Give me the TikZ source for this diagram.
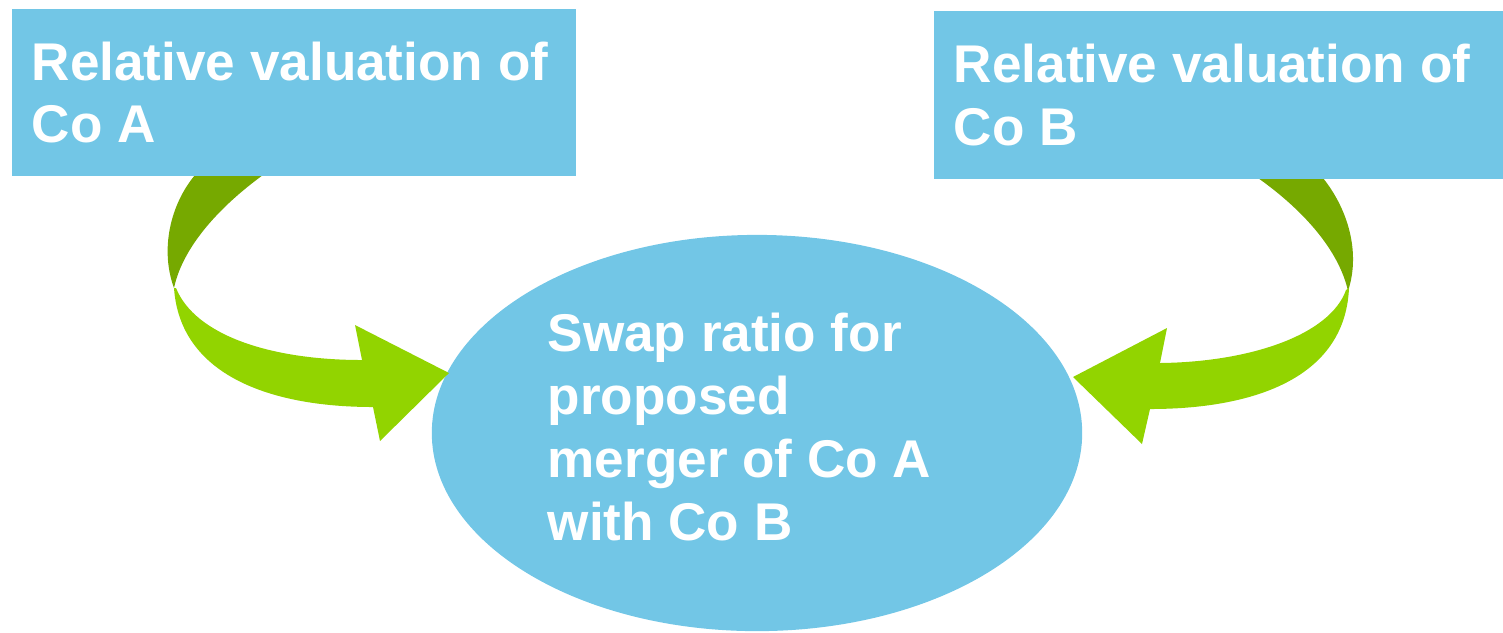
\documentclass[tikz,border=0pt]{standalone}
\usepackage{fontspec}
\setmainfont{Liberation Sans}
\usetikzlibrary{shapes.geometric}
\definecolor{skyblue}{HTML}{72C6E6}
\definecolor{leafdark}{HTML}{76A900}
\definecolor{leaflight}{HTML}{92D400}

\begin{document}
\begin{tikzpicture}[
  x=0.01cm, y=-0.01cm,
  big/.style={font=\fontsize{15.1}{17.9}\selectfont\bfseries, text=white},
  box/.style={big, rectangle, fill=skyblue, align=flush left, inner xsep=0.2cm,
              inner ysep=0pt, minimum height=1.67cm},
  oval/.style={ellipse, fill=skyblue, inner sep=0pt,
               minimum width=6.5cm, minimum height=3.96cm},
  txt/.style={big, align=left, inner sep=0pt},
  bck/.style={fill=leafdark},
  fwd/.style={fill=leaflight}
]
\useasboundingbox (0,0) rectangle (1503,632);

\node[oval] (swap) at (757,433) {};
\node[txt, anchor=north west] (swaptxt) at (547,312)
  {Swap ratio for\\proposed\\merger of Co A\\with Co B};

% left arrow: A -> swap
\path[bck] (195,175) .. controls (170,205) and (160,250) .. (174,288)
  .. controls (182,250) and (215,210) .. (263,175) -- cycle;
\path[fwd] (174,288) .. controls (180,375) and (270,407) .. (373,407)
  -- (380,441) -- (449,373) -- (355,325) -- (362,360)
  .. controls (270,360) and (195,335) .. (176,288) -- cycle;

% right arrow: B -> swap
\path[bck] (1323,178) .. controls (1350,212) and (1360,255) .. (1348,291)
  .. controls (1340,255) and (1310,215) .. (1258,178) -- cycle;
\path[fwd] (1349,288) .. controls (1345,380) and (1250,409) .. (1150,409)
  -- (1142,444) -- (1073,377) -- (1167,328) -- (1160,363)
  .. controls (1250,362) and (1330,335) .. (1346,290) -- cycle;

\node[box, minimum width=5.64cm, text width=5.24cm] (coA) at (294,92.5)
  {Relative valuation of\\Co A};
\node[box, minimum width=5.69cm, text width=5.29cm] (coB) at (1218.5,95)
  {Relative valuation of\\Co B};
\end{tikzpicture}
\end{document}
